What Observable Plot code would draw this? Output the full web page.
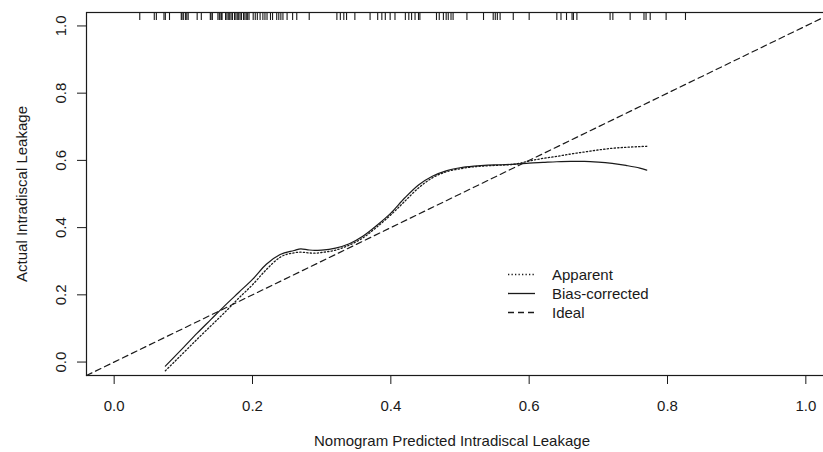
<!DOCTYPE html>
<html><head><meta charset="utf-8">
<script src="https://cdn.jsdelivr.net/npm/d3@7"></script>
<script src="https://cdn.jsdelivr.net/npm/@observablehq/plot@0.6"></script>
<style>
html,body{margin:0;padding:0;background:#fff;overflow:hidden;}
#wrap{position:relative;width:823px;height:452px;overflow:hidden;font-family:"Liberation Sans",Arial,sans-serif;}
.legend{position:absolute;left:506px;top:265px;font-size:15px;color:#1a1a1a;}
.legend .row{display:flex;align-items:center;height:19px;}
.legend svg{width:46px;height:19px;display:block;}
</style></head><body><div id="wrap"></div>
<script>
// axis limits (R default 4% extension of [0,1])
const xLimits = [-0.04, 1.04];
const yLimits = [-0.04, 1.04];
const xTicks = [0, 0.2, 0.4, 0.6, 0.8, 1.0];
const yTicks = [0, 0.2, 0.4, 0.6, 0.8, 1.0];
const xLabel = "Nomogram Predicted Intradiscal Leakage";
const yLabel = "Actual Intradiscal Leakage";
const seriesNames = ["Apparent", "Bias-corrected", "Ideal"];

// predicted probability grid for the calibration curves
const predicted = [0.074, 0.10, 0.12, 0.14, 0.16, 0.18, 0.20, 0.22, 0.24, 0.26, 0.27, 0.28, 0.29, 0.30, 0.32, 0.34, 0.36, 0.38, 0.40, 0.42, 0.44, 0.46, 0.48, 0.50, 0.52, 0.54, 0.56, 0.58, 0.60, 0.62, 0.64, 0.66, 0.68, 0.70, 0.72, 0.74, 0.76, 0.77];
const apparent = [-0.026, 0.027, 0.068, 0.108, 0.148, 0.190, 0.230, 0.275, 0.312, 0.325, 0.327, 0.325, 0.324, 0.326, 0.333, 0.348, 0.370, 0.402, 0.438, 0.478, 0.518, 0.548, 0.566, 0.575, 0.581, 0.584, 0.586, 0.589, 0.598, 0.606, 0.612, 0.619, 0.625, 0.631, 0.636, 0.639, 0.641, 0.642];
const biasCorrected = [-0.012, 0.043, 0.086, 0.127, 0.168, 0.207, 0.246, 0.291, 0.320, 0.332, 0.337, 0.334, 0.332, 0.333, 0.339, 0.352, 0.375, 0.407, 0.443, 0.488, 0.527, 0.553, 0.569, 0.578, 0.583, 0.586, 0.587, 0.589, 0.592, 0.594, 0.596, 0.597, 0.597, 0.595, 0.591, 0.585, 0.577, 0.571];

// rug of predicted values (top of plot)
const rugPredicted = [0.037, 0.058, 0.061, 0.072, 0.074, 0.080, 0.097, 0.098, 0.100, 0.103, 0.105, 0.107, 0.120, 0.126, 0.139, 0.140, 0.142, 0.150, 0.152, 0.153, 0.155, 0.156, 0.161, 0.163, 0.165, 0.167, 0.169, 0.171, 0.174, 0.176, 0.178, 0.180, 0.182, 0.184, 0.187, 0.189, 0.191, 0.193, 0.195, 0.201, 0.204, 0.207, 0.211, 0.215, 0.218, 0.221, 0.226, 0.229, 0.235, 0.238, 0.241, 0.244, 0.250, 0.258, 0.264, 0.282, 0.322, 0.327, 0.332, 0.336, 0.348, 0.370, 0.381, 0.387, 0.392, 0.399, 0.406, 0.421, 0.426, 0.430, 0.435, 0.440, 0.442, 0.466, 0.470, 0.476, 0.480, 0.483, 0.487, 0.490, 0.510, 0.534, 0.548, 0.551, 0.554, 0.558, 0.577, 0.600, 0.640, 0.646, 0.654, 0.662, 0.664, 0.669, 0.717, 0.721, 0.746, 0.766, 0.769, 0.775, 0.798, 0.826];

const ink = "#1a1a1a";
const dashes = {"Apparent": "1.3,2.2", "Bias-corrected": null, "Ideal": "6,4"};

const chart = Plot.plot({
  width: 823,
  height: 452,
  marginLeft: 86,
  marginRight: -10,
  marginTop: 12,
  marginBottom: 77,
  style: {fontFamily: "'Liberation Sans', Arial, sans-serif", fontSize: "15px", color: ink, background: "white", overflow: "hidden"},
  x: {domain: xLimits},
  y: {domain: yLimits},
  marks: [
    Plot.axisX({ticks: xTicks, tickSize: 9, tickPadding: 16, tickFormat: d3.format(".1f"), label: null, stroke: ink}),
    Plot.axisY({ticks: yTicks, tickSize: 9, tickPadding: 12, tickRotate: -90, tickFormat: d3.format(".1f"), label: yLabel, labelAnchor: "center", labelArrow: "none", labelOffset: 70, stroke: ink}),
    Plot.text([xLabel], {text: d => d, frameAnchor: "bottom", dy: 66, dx: -8, lineAnchor: "middle", fill: ink}),
    Plot.ruleX(rugPredicted, {x: d => d, insetBottom: 355, stroke: ink, strokeWidth: 1.1}),
    Plot.line(xLimits, {x: d => d, y: d => d, stroke: ink, strokeWidth: 1.2, strokeDasharray: dashes["Ideal"]}),
    Plot.line(predicted, {x: d => d, y: (d, i) => apparent[i], curve: "monotone-x", stroke: ink, strokeWidth: 1.3, strokeDasharray: dashes["Apparent"]}),
    Plot.line(predicted, {x: d => d, y: (d, i) => biasCorrected[i], curve: "monotone-x", stroke: ink, strokeWidth: 1.2}),
    Plot.frame({stroke: ink, strokeWidth: 1.2})
  ]
});
const wrap = document.getElementById("wrap");
wrap.appendChild(chart);

// legend
const legend = document.createElement("div");
legend.className = "legend";
for (const name of seriesNames) {
  const row = document.createElement("div");
  row.className = "row";
  const da = dashes[name];
  row.innerHTML = `<svg viewBox="0 0 46 19"><line x1="2" x2="29" y1="9.5" y2="9.5" stroke="${ink}" stroke-width="1.3" ${da ? `stroke-dasharray="${da}"` : ""}/></svg><span>${name}</span>`;
  legend.appendChild(row);
}
wrap.appendChild(legend);
</script>
</body></html>
